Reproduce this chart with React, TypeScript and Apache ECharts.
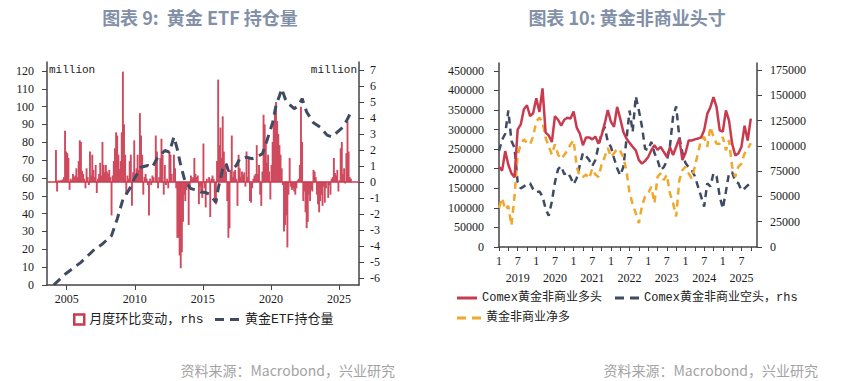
import React, { useEffect, useRef } from 'react';
import * as echarts from 'echarts';

// ---------- Chart 9: gold ETF holdings ----------
const etfYears = [2004, 2005, 2006, 2007, 2008, 2009, 2010, 2011, 2012, 2013, 2014, 2015, 2016, 2017, 2018, 2019, 2020, 2021, 2022, 2023, 2024, 2025];
// monthly change (rhs), Jan..Dec per year
const etfMonthlyChange: (number | null)[][] = [
  [null, null, 2.0, -0.6, 0.1, 0.05, 0.1, 0.1, 0.15, 0.3, 3.2, 1.9],
  [1.8, 1.5, -0.5, 0.2, 0.1, 0.5, 0.3, 0.4, 0.85, 0.3, 1.3, 2.6],
  [2.5, 0.7, 0.5, 0.2, -0.4, 0.85, 0.3, -0.2, 1.9, 0.4, 1.7, 0.75],
  [0.3, 1.06, -0.7, 0.2, 0.5, 1.2, 0.4, 2.5, 1.06, 0.6, 1.06, 0.65],
  [0.5, 0.75, 0.3, -2.1, 0.4, 1.3, 2.1, 3.1, 2.9, 1.7, 0.8, 1.3],
  [3.1, 6.9, 3.6, 1.7, -0.8, 0.4, 0.2, 1.3, 1.7, -1.5, 0.6, 2.6],
  [0.3, 0.85, 1.7, 0.75, 4.3, 2.9, 1.7, -0.8, 0.3, 0.5, 0.2, -0.2],
  [-2.1, 0.2, -0.2, 0.4, 0.3, 0.0, 2.9, 1.9, -0.4, 0.3, 1.5, 2.7],
  [1.7, -0.8, 1.06, -0.2, 0.2, -0.4, 1.9, 1.7, 0.5, 0.0, 1.7, 0.85],
  [-0.4, -3.5, -3.5, -4.6, -5.4, -4.4, -2.5, -0.8, -1.2, -0.5, -0.2, -2.7],
  [-0.3, 0.4, 0.2, 0.3, 1.5, 0.5, 0.3, 0.4, -1.4, -0.3, -0.6, -1.0],
  [2.4, -0.4, -1.6, 0.2, 0.0, 0.3, -2.2, 0.2, 0.4, 0.2, -1.0, -1.4],
  [1.3, 6.4, 2.3, 3.4, 1.5, 4.1, 1.9, 1.06, 0.65, -1.2, -3.5, -2.9],
  [0.75, 2.9, 0.3, 0.65, 0.75, 0.2, -1.5, 1.7, 0.85, 0.3, 0.65, 0.45],
  [0.6, -0.3, 1.9, 0.3, 1.5, -1.2, -1.3, -0.4, 0.2, 0.4, 0.5, 2.3],
  [0.5, 1.06, -0.8, -1.5, 0.65, 4.2, 3.6, 2.5, 1.2, 1.7, 0.65, -1.1],
  [1.06, 2.5, 3.8, 4.4, 5.0, 3.8, 3.0, 2.3, 1.7, 0.85, -0.2, -3.1],
  [-2.7, -2.1, -4.1, -0.8, 1.5, -0.3, -0.5, -0.4, -0.6, -0.8, -0.4, 0.1],
  [0.2, 1.06, 4.7, 2.5, -1.2, -0.6, -1.9, -2.9, -2.5, -0.8, -1.2, -0.5],
  [-0.6, 0.75, 0.65, 0.3, -0.8, -1.4, -1.9, -1.2, -0.8, -1.5, -0.3, -1.3],
  [-0.4, 0.0, -1.0, -0.2, -0.8, 0.2, 0.3, 1.5, 0.55, 0.4, 0.75, -0.6],
  [0.1, 2.1, 2.5, 0.5, 0.85, -0.1, 1.8, 3.8, 1.9, 0.3, 0.2, null],
];
// holdings (lhs)
const etfHoldingDates = ['2004-01', '2004-11', '2006-01', '2007-01', '2007-08', '2008-04', '2008-09', '2009-02', '2009-08', '2009-12', '2010-06', '2010-12', '2011-04', '2011-08', '2012-03', '2012-07', '2012-11', '2013-02', '2013-05', '2013-09', '2014-02', '2014-08', '2014-11', '2015-02', '2015-06', '2015-10', '2015-12', '2016-02', '2016-06', '2016-09', '2016-11', '2017-02', '2017-06', '2017-09', '2018-03', '2018-08', '2018-12', '2019-05', '2019-09', '2020-02', '2020-05', '2020-08', '2020-10', '2021-01', '2021-04', '2021-09', '2022-01', '2022-04', '2022-08', '2023-02', '2023-08', '2024-02', '2024-06', '2024-11', '2025-04', '2025-08', '2025-11'];
const etfHoldingValues = [0, 6, 12.7, 20, 23, 27.7, 37, 48, 54, 59.5, 66, 67, 66, 70.8, 75.4, 74.5, 83, 76, 67, 57.7, 54, 53, 52, 52, 51, 48, 46.4, 54, 65, 68, 64, 65, 67, 70.8, 71.7, 70.8, 71.7, 73.6, 81, 91, 100.7, 106, 110, 104.5, 101.6, 98.8, 100.7, 104.5, 97, 91, 88.5, 84, 83, 85.7, 88.5, 93, 97];
const etfYearLabels = [2005, 2010, 2015, 2020, 2025];
const etfLeftTicks = [0, 10, 20, 30, 40, 50, 60, 70, 80, 90, 100, 110, 120];
const etfRightTicks = [-6, -5, -4, -3, -2, -1, 0, 1, 2, 3, 4, 5, 6, 7];

// ---------- Chart 10: non-commercial positions ----------
const cotYears = [2019, 2020, 2021, 2022, 2023, 2024, 2025];
const cotLong = [
  205000, 195000, 245000, 210000, 188000, 178000, 300000, 313000, 352000, 362000, 334000, 342000,
  380000, 345000, 405000, 292000, 285000, 268000, 334000, 325000, 310000, 325000, 330000, 328000,
  346000, 305000, 290000, 260000, 280000, 280000, 275000, 282000, 264000, 285000, 315000, 350000,
  320000, 307000, 358000, 328000, 294000, 277000, 266000, 256000, 247000, 222000, 213000, 220000,
  230000, 247000, 260000, 248000, 256000, 243000, 230000, 255000, 235000, 256000, 277000, 222000,
  240000, 272000, 272000, 275000, 277000, 280000, 298000, 340000, 357000, 383000, 357000, 298000,
  295000, 349000, 323000, 264000, 234000, 239000, 256000, 310000, 272000, 328000, null, null,
];
const cotShort = [
  95000, 106000, 112000, 135000, 105000, 98000, 64000, 58000, 60000, 62000, 63000, 57000,
  54000, 55000, 50000, 38000, 31000, 45000, 64000, 77000, 80000, 72000, 74000, 69000,
  62000, 68000, 81000, 93000, 90000, 86000, 80000, 86000, 100000, 112000, 119000, 104000,
  99000, 88000, 78000, 71000, 79000, 106000, 135000, 114000, 149000, 135000, 119000, 97000,
  96000, 104000, 93000, 86000, 76000, 79000, 85000, 100000, 129000, 139000, 109000, 93000,
  83000, 79000, 76000, 70000, 60000, 50000, 40000, 63000, 60000, 73000, 70000, 50000,
  38000, 55000, 73000, 74000, 65000, 63000, 56000, 58000, 61000, 63000, null, null,
];
const cotNet = [
  100000, 125000, 95000, 105000, 55000, 130000, 236000, 262000, 275000, 266000, 262000, 283000,
  321000, 330000, 320000, 279000, 257000, 236000, 262000, 236000, 225000, 235000, 247000, 262000,
  273000, 205000, 180000, 179000, 185000, 175000, 200000, 185000, 179000, 210000, 230000, 253000,
  230000, 239000, 251000, 245000, 230000, 195000, 137000, 110000, 86000, 61000, 105000, 129000,
  137000, 154000, 112000, 179000, 188000, 171000, 184000, 137000, 112000, 78000, 170000, 196000,
  205000, 188000, 175000, 205000, 239000, 273000, 281000, 256000, 307000, 281000, 264000, 264000,
  281000, 247000, 273000, 205000, 179000, 205000, 213000, 239000, 250000, 265000, null, null,
];
const cotLeftTicks = [0, 50000, 100000, 150000, 200000, 250000, 300000, 350000, 400000, 450000];
const cotRightTicks = [0, 25000, 50000, 75000, 100000, 125000, 150000, 175000];

const NAME_BAR = '月度环比变动，rhs';
const NAME_HOLD = '黄金ETF持仓量';
const NAME_LONG = 'Comex黄金非商业多头';
const NAME_SHORT = 'Comex黄金非商业空头，rhs';
const NAME_NET = '黄金非商业净多';

const SERIF = "'Liberation Serif','Times New Roman',serif";
const LEGEND_FONT = "'Liberation Mono','Noto Sans CJK SC',monospace";
const CJK = "'Noto Sans CJK SC','Noto Sans',sans-serif";
const AXIS_COLOR = '#444';
const RED = '#c93a4f';
const NAVY = '#3f4a63';
const ORANGE = '#f0a72c';
const ICON_SOLID = 'path://M0,0h20v3h-20z';
const ICON_DASH = 'path://M0,0h9v3h-9zM15,0h9v3h-9z';

function ymToYear(s: string): number {
  const [y, m] = s.split('-').map(Number);
  return y + (m - 1) / 12 + 1 / 24;
}

export default function App() {
  const ref = useRef<HTMLDivElement>(null);
  useEffect(() => {
    if (!ref.current) return;
    const chart = echarts.init(ref.current, undefined, { renderer: 'svg' });

    const barData: [number, number][] = [];
    etfYears.forEach((y, i) => {
      etfMonthlyChange[i].forEach((v, j) => {
        if (v !== null) barData.push([y + j / 12 + 1 / 24, v]);
      });
    });
    const holdData = etfHoldingDates.map((d, i) => [ymToYear(d), etfHoldingValues[i]]);

    const cotCats: string[] = [];
    cotYears.forEach((y) => {
      for (let m = 1; m <= 12; m++) cotCats.push(`${y}-${m < 10 ? '0' + m : m}`);
    });
    const monthOf = (c: string) => Number(c.split('-')[1]);

    const axisLine = { show: true, lineStyle: { color: AXIS_COLOR, width: 1.5 } };
    const labelBase = { color: '#1a1a1a', fontSize: 12, fontFamily: SERIF };
    const plain = (v: number) => String(v);
    const legendText = { fontSize: 12, fontFamily: LEGEND_FONT, color: '#222' };

    const option: any = {
      animation: false,
      backgroundColor: '#fff',
      grid: [
        { left: 47, right: 483, top: 62, bottom: 96, containLabel: false },
        { left: 499, right: 85, top: 63, bottom: 134, containLabel: false },
      ],
      xAxis: [
        {
          type: 'value', gridIndex: 0, min: 2003.55, max: 2026.47,
          axisLine,
          axisTick: { show: true, length: 5, customValues: etfYearLabels, lineStyle: { color: AXIS_COLOR } },
          axisLabel: { ...labelBase, margin: 8, customValues: etfYearLabels, formatter: (v: number) => String(Math.round(v)) },
          splitLine: { show: false },
        },
        {
          type: 'category', gridIndex: 1, data: cotCats, boundaryGap: false,
          axisLine,
          axisTick: {
            show: true, length: 4, lineStyle: { color: AXIS_COLOR },
            interval: (i: number, c: string) => [1, 4, 7, 10].includes(monthOf(c)),
          },
          axisLabel: {
            ...labelBase, margin: 5, lineHeight: 17,
            interval: (i: number, c: string) => monthOf(c) === 1 || monthOf(c) === 7,
            formatter: (c: string) => {
              const m = monthOf(c);
              if (m === 1) return '1';
              if (m === 7) return '7\n' + c.split('-')[0];
              return '';
            },
          },
          splitLine: { show: false },
        },
      ],
      yAxis: [
        {
          type: 'value', gridIndex: 0, position: 'left', min: 0, max: 125,
          axisLine,
          axisTick: { show: true, length: 5, customValues: etfLeftTicks, lineStyle: { color: AXIS_COLOR } },
          axisLabel: { ...labelBase, margin: 13, customValues: etfLeftTicks, formatter: plain },
          splitLine: { show: false },
        },
        {
          type: 'value', gridIndex: 0, position: 'right', min: -6.45, max: 7.5,
          axisLine,
          axisTick: { show: true, length: 5, customValues: etfRightTicks, lineStyle: { color: AXIS_COLOR } },
          axisLabel: { ...labelBase, margin: 11, customValues: etfRightTicks, formatter: plain },
          splitLine: { show: false },
        },
        {
          type: 'value', gridIndex: 1, position: 'left', min: 0, max: 470000,
          axisLine,
          axisTick: { show: true, length: 5, customValues: cotLeftTicks, lineStyle: { color: AXIS_COLOR } },
          axisLabel: { ...labelBase, margin: 15, customValues: cotLeftTicks, formatter: plain },
          splitLine: { show: false },
        },
        {
          type: 'value', gridIndex: 1, position: 'right', min: 0, max: 182000,
          axisLine,
          axisTick: { show: true, length: 5, customValues: cotRightTicks, lineStyle: { color: AXIS_COLOR } },
          axisLabel: { ...labelBase, margin: 13, customValues: cotRightTicks, formatter: plain },
          splitLine: { show: false },
        },
      ],
      legend: [
        {
          left: 68, top: 308, itemWidth: 10, itemHeight: 10, itemGap: 8,
          textStyle: { ...legendText, fontSize: 13 },
          data: [{ name: NAME_BAR, icon: 'rect', itemStyle: { color: '#fff', borderColor: RED, borderWidth: 2.5 } }],
          selectedMode: false,
        },
        {
          left: 210, top: 308, itemWidth: 26, itemHeight: 3, itemGap: 8,
          textStyle: { ...legendText, fontSize: 13 },
          data: [{ name: NAME_HOLD, icon: ICON_DASH }], selectedMode: false,
        },
        {
          left: 452, top: 287, itemWidth: 20, itemHeight: 3, itemGap: 10,
          textStyle: legendText,
          data: [{ name: NAME_LONG, icon: ICON_SOLID }], selectedMode: false,
        },
        {
          left: 610, top: 287, itemWidth: 24, itemHeight: 3, itemGap: 10,
          textStyle: legendText,
          data: [{ name: NAME_SHORT, icon: ICON_DASH }], selectedMode: false,
        },
        {
          left: 452, top: 307, itemWidth: 24, itemHeight: 3,
          textStyle: legendText,
          data: [{ name: NAME_NET, icon: ICON_DASH }], selectedMode: false,
        },
      ],
      series: [
        {
          name: NAME_BAR, type: 'bar', xAxisIndex: 0, yAxisIndex: 1, data: barData,
          barWidth: 1.9, itemStyle: { color: '#cf4a5e' },
          markLine: {
            silent: true, symbol: ['none', 'none'], label: { show: false },
            lineStyle: { color: RED, width: 1.5, type: 'solid' },
            data: [{ yAxis: 0 }],
          },
        },
        {
          name: NAME_HOLD, type: 'line', xAxisIndex: 0, yAxisIndex: 0, data: holdData,
          symbol: 'none', smooth: false,
          lineStyle: { color: NAVY, width: 3, type: [9, 6] }, itemStyle: { color: NAVY },
        },
        {
          name: NAME_SHORT, type: 'line', xAxisIndex: 1, yAxisIndex: 3, data: cotShort,
          symbol: 'none', lineStyle: { color: NAVY, width: 2.5, type: [7, 5] }, itemStyle: { color: NAVY },
        },
        {
          name: NAME_NET, type: 'line', xAxisIndex: 1, yAxisIndex: 2, data: cotNet,
          symbol: 'none', lineStyle: { color: ORANGE, width: 2.5, type: [7, 5] }, itemStyle: { color: ORANGE },
        },
        {
          name: NAME_LONG, type: 'line', xAxisIndex: 1, yAxisIndex: 2, data: cotLong,
          symbol: 'none', lineStyle: { color: RED, width: 2.5 }, itemStyle: { color: RED },
        },
      ],
      graphic: [
        { type: 'text', x: 200, y: 17, style: { text: '图表 9:  黄金 ETF 持仓量', font: `bold 18px ${CJK}`, fill: '#8290a8', align: 'center', verticalAlign: 'middle' } },
        { type: 'text', x: 627, y: 17, style: { text: '图表 10: 黄金非商业头寸', font: `bold 18px ${CJK}`, fill: '#8290a8', align: 'center', verticalAlign: 'middle' } },
        { type: 'text', x: 49, y: 70, style: { text: 'million', font: `11px 'Liberation Mono',monospace`, fill: '#222', align: 'left', verticalAlign: 'middle' } },
        { type: 'text', x: 357, y: 70, style: { text: 'million', font: `11px 'Liberation Mono',monospace`, fill: '#222', align: 'right', verticalAlign: 'middle' } },
        { type: 'text', x: 395, y: 370, style: { text: '资料来源：Macrobond，兴业研究', font: `14px ${CJK}`, fill: '#a3a3a3', align: 'right', verticalAlign: 'middle' } },
        { type: 'text', x: 818, y: 370, style: { text: '资料来源：Macrobond，兴业研究', font: `14px ${CJK}`, fill: '#a3a3a3', align: 'right', verticalAlign: 'middle' } },
      ],
    };
    chart.setOption(option);
    return () => chart.dispose();
  }, []);
  return (
    <div
      ref={ref}
      style={{ position: 'absolute', left: 0, top: 0, width: 842, height: 381, background: '#fff' }}
    />
  );
}
